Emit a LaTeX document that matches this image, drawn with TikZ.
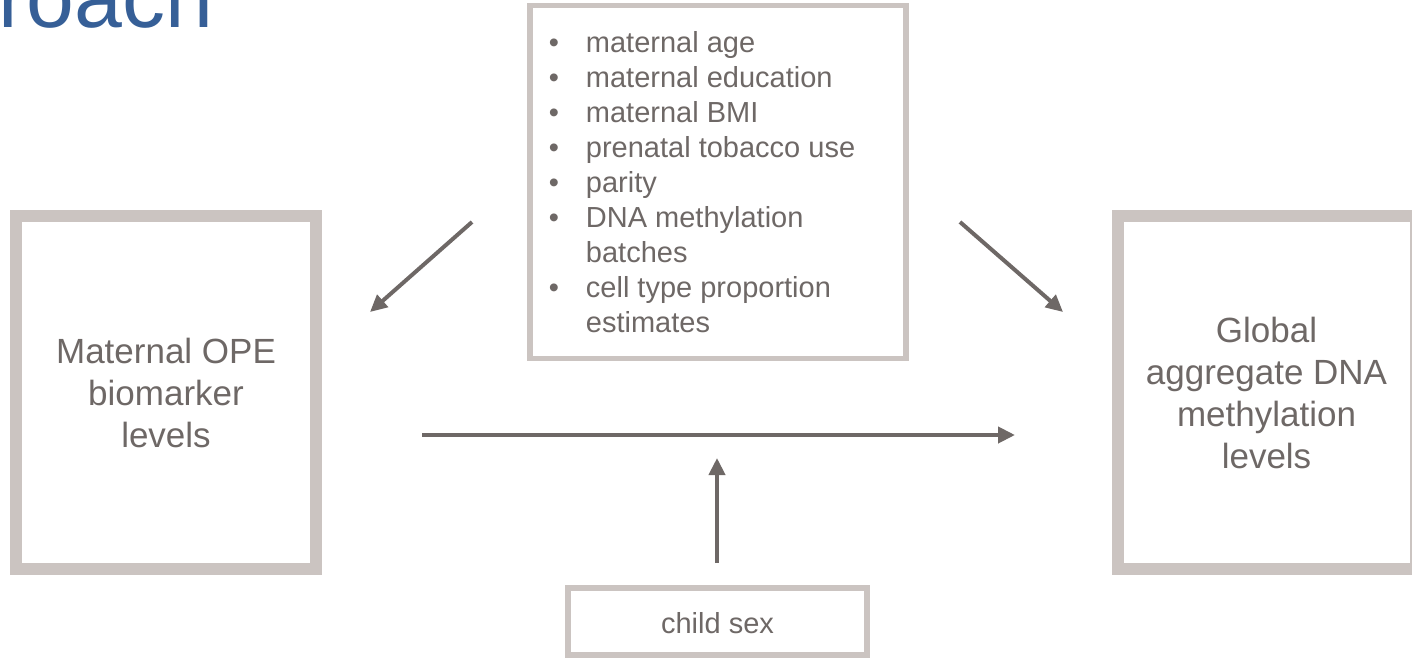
\documentclass[tikz,border=0pt]{standalone}
\usepackage{fontspec}
\setmainfont{Liberation Sans}
\usetikzlibrary{arrows.meta}
\definecolor{boxgray}{HTML}{CBC4C1}
\definecolor{txtgray}{HTML}{6E6866}
\definecolor{titleblue}{HTML}{365F97}
\begin{document}
\begin{tikzpicture}[x=1pt,y=-1pt,
  bigbox/.style={draw=boxgray,line width=12pt,minimum width=300pt,minimum height=353pt,
    align=center,text=txtgray,font=\fontsize{35}{42}\selectfont},
  thinbox/.style={draw=boxgray,line width=5.5pt,text=txtgray,font=\fontsize{29}{35}\selectfont},
  arr/.style={draw=txtgray,line width=4pt,-{Triangle[length=17pt,width=16pt]}}]
\useasboundingbox (0,0) rectangle (1412,658);
\clip (0,0) rectangle (1412,658);
\node[anchor=base east,inner sep=0pt,text=titleblue,font=\fontsize{86}{100}\selectfont] (title) at (213.5,28) {Approach};
\node[bigbox] (ope) at (166,392.5) {Maternal OPE\\biomarker\\levels};
\node[bigbox,minimum width=298pt] (dnam) at (1266.5,392.5) {Global\\aggregate DNA\\methylation\\levels};
\node[thinbox,minimum width=376pt,minimum height=353pt,inner sep=0pt] (cov) at (718,182) {%
  \raisebox{-3.5pt}[\height][\depth]{%
  \begin{tabular}{@{}l@{\hspace{27pt}}l@{\hspace{32pt}}}
  • & maternal age\\
  • & maternal education\\
  • & maternal BMI\\
  • & prenatal tobacco use\\
  • & parity\\
  • & DNA methylation\\
    & batches\\
  • & cell type proportion\\
    & estimates
  \end{tabular}}};
\node[thinbox,minimum width=299pt,minimum height=67pt] (sex) at (717.5,621.5) {\raisebox{-1.5pt}[\height][\depth]{child sex}};
\coordinate (covl) at (472,222);
\coordinate (opetip) at (370,312);
\coordinate (covr) at (960,222);
\coordinate (dnamtip) at (1063,312);
\coordinate (mainl) at (422,435);
\coordinate (mainr) at (1015,435);
\coordinate (sexup) at (717,563);
\coordinate (sextip) at (717,458);
\draw[arr] (covl) -- (opetip);
\draw[arr] (covr) -- (dnamtip);
\draw[arr] (mainl) -- (mainr);
\draw[arr] (sexup) -- (sextip);
\end{tikzpicture}
\end{document}
